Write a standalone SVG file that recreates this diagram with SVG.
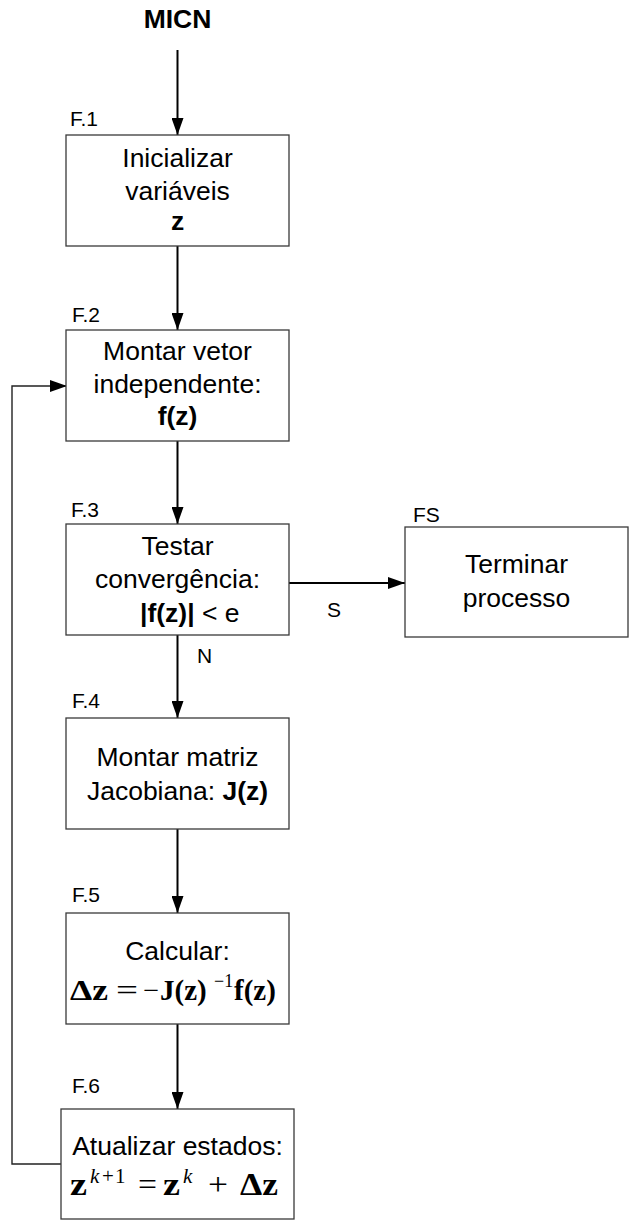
<svg xmlns="http://www.w3.org/2000/svg" width="629" height="1225" viewBox="0 0 629 1225">
<style>
.box{fill:#fff;stroke:#3a3a3a;stroke-width:1.3}
.t{font-family:"Liberation Sans",Arial,sans-serif;font-size:26.5px;fill:#000;text-anchor:middle}
.lb{font-family:"Liberation Sans",Arial,sans-serif;font-size:21px;fill:#000}
.b{font-weight:bold}
.m{font-family:"Liberation Serif","Times New Roman",serif;fill:#000}
.c{fill:none;stroke:#000;stroke-width:2}
.fb{fill:none;stroke:#222;stroke-width:1.4}
</style>
<defs>
<marker id="ah" markerUnits="userSpaceOnUse" markerWidth="18" markerHeight="12" refX="17" refY="6" orient="auto">
<path d="M0,0 L17,6 L0,12 Z" fill="#000"/>
</marker>
</defs>
<text x="177.5" y="28" class="t b">MICN</text>
<g id="connectors">
<line x1="177.5" y1="50" x2="177.5" y2="135" class="c" marker-end="url(#ah)"/>
<line x1="177.5" y1="246" x2="177.5" y2="330" class="c" marker-end="url(#ah)"/>
<line x1="177.5" y1="441" x2="177.5" y2="524" class="c" marker-end="url(#ah)"/>
<line x1="177.5" y1="635" x2="177.5" y2="718" class="c" marker-end="url(#ah)"/>
<line x1="177.5" y1="829" x2="177.5" y2="913" class="c" marker-end="url(#ah)"/>
<line x1="177.5" y1="1024" x2="177.5" y2="1109" class="c" marker-end="url(#ah)"/>
<line x1="289" y1="583" x2="405" y2="583" class="c" marker-end="url(#ah)"/>
<polyline points="61,1164 12,1164 12,386 67,386" class="fb" marker-end="url(#ah)"/>
<text x="197" y="663" class="lb">N</text>
<text x="327" y="617" class="lb">S</text>
</g>
<g id="F1">
<rect x="66" y="135" width="223" height="111" class="box"/>
<text x="70" y="126" class="lb">F.1</text>
<text x="177.5" y="167" class="t">Inicializar</text>
<text x="177.5" y="200" class="t">variáveis</text>
<text x="177.5" y="230" class="t b">z</text>
</g>
<g id="F2">
<rect x="66" y="330" width="223" height="111" class="box"/>
<text x="72" y="322" class="lb">F.2</text>
<text x="177.5" y="360" class="t">Montar vetor</text>
<text x="177.5" y="393" class="t">independente:</text>
<text x="177.5" y="425" class="t b">f(z)</text>
</g>
<g id="F3">
<rect x="66" y="524" width="223" height="111" class="box"/>
<text x="71" y="517" class="lb">F.3</text>
<text x="177.5" y="555" class="t">Testar</text>
<text x="177.5" y="588" class="t">convergência:</text>
<text x="140" y="622" class="t" style="text-anchor:start"><tspan class="b">|f(z)|</tspan> &lt; e</text>
</g>
<g id="FS">
<rect x="405" y="527" width="223" height="110" class="box"/>
<text x="413" y="522" class="lb">FS</text>
<text x="516.5" y="573" class="t">Terminar</text>
<text x="516.5" y="607" class="t">processo</text>
</g>
<g id="F4">
<rect x="66" y="718" width="223" height="111" class="box"/>
<text x="72" y="708" class="lb">F.4</text>
<text x="177.5" y="766" class="t">Montar matriz</text>
<text x="177.5" y="800" class="t">Jacobiana: <tspan class="b">J(z)</tspan></text>
</g>
<g id="F5">
<rect x="66" y="913" width="223" height="111" class="box"/>
<text x="72" y="902" class="lb">F.5</text>
<text x="177.5" y="960" class="t">Calcular:</text>
<text class="m" font-size="29" y="1000"><tspan x="70" font-weight="bold" textLength="38" lengthAdjust="spacingAndGlyphs">Δz</tspan><tspan x="116" textLength="22" lengthAdjust="spacingAndGlyphs">=</tspan><tspan x="143" textLength="16" lengthAdjust="spacingAndGlyphs">−</tspan><tspan x="160" font-weight="bold">J(z)</tspan><tspan x="214" y="987" font-size="18">−1</tspan><tspan x="234" y="1000" font-weight="bold">f(z)</tspan></text>
</g>
<g id="F6">
<rect x="61" y="1109" width="233" height="110" class="box"/>
<text x="72" y="1093" class="lb">F.6</text>
<text x="177.5" y="1155" class="t">Atualizar estados:</text>
<text class="m" font-size="31" y="1195"><tspan x="70" font-weight="bold" textLength="17" lengthAdjust="spacingAndGlyphs">z</tspan><tspan x="90" y="1183" font-size="21" font-style="italic">k</tspan><tspan x="102" y="1183" font-size="21">+</tspan><tspan x="115" y="1183" font-size="21">1</tspan><tspan x="138" y="1195" textLength="19" lengthAdjust="spacingAndGlyphs">=</tspan><tspan x="163" font-weight="bold" textLength="17" lengthAdjust="spacingAndGlyphs">z</tspan><tspan x="183" y="1183" font-size="21" font-style="italic">k</tspan><tspan x="208" y="1195" textLength="20" lengthAdjust="spacingAndGlyphs">+</tspan><tspan x="240" font-weight="bold" textLength="38" lengthAdjust="spacingAndGlyphs">Δz</tspan></text>
</g>
</svg>
